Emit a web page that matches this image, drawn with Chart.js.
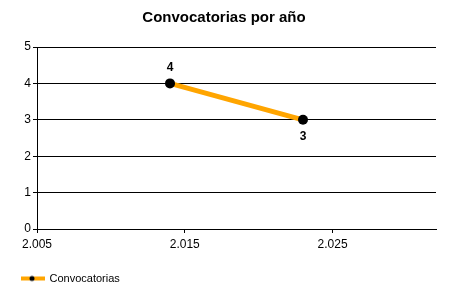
<!DOCTYPE html>
<html>
<head>
<meta charset="utf-8">
<script src="https://cdn.jsdelivr.net/npm/chart.js@4"></script>
<style>
	html, body { margin: 0; padding: 0; background: #fff; }
	#wrap { width: 450px; height: 300px; }
</style>
</head>
<body>
<div id="wrap"><canvas id="chart"></canvas></div>
<script>
const years = [2014, 2023];
const counts = [4, 3];
const xTicks = [2005, 2015, 2025];
const yTicks = [0, 1, 2, 3, 4, 5];

const ORANGE = '#FFA500';

// legend symbol: orange line with black dot
const legendIcon = document.createElement('canvas');
legendIcon.width = 24;
legendIcon.height = 8;
{
	const c = legendIcon.getContext('2d');
	c.fillStyle = ORANGE;
	c.fillRect(0, 2, 24, 4);
	c.fillStyle = '#000';
	c.beginPath();
	c.arc(11, 4, 2.5, 0, Math.PI * 2);
	c.fill();
}

// number labels above / below the points
const pointLabels = {
	id: 'pointLabels',
	afterDatasetsDraw(chart) {
		const ctx = chart.ctx;
		const meta = chart.getDatasetMeta(0);
		const data = chart.data.datasets[0].data;
		ctx.save();
		ctx.font = 'bold 12px "Liberation Sans", Arial, sans-serif';
		ctx.fillStyle = '#000';
		ctx.textAlign = 'center';
		ctx.textBaseline = 'middle';
		meta.data.forEach((pt, i) => {
			const v = data[i].y;
			const nb = [data[i - 1], data[i + 1]].filter(Boolean).map(d => d.y);
			const avg = nb.length ? nb.reduce((a, b) => a + b, 0) / nb.length : v;
			const above = v >= avg;
			ctx.fillText(String(v), pt.x, above ? pt.y - 16 : pt.y + 17);
		});
		ctx.restore();
	}
};

const fmt = v => v.toLocaleString('es-ES', { useGrouping: 'always' }).replace(/\u00a0/g, '.');

new Chart(document.getElementById('chart'), {
	type: 'line',
	data: {
		datasets: [{
			label: 'Convocatorias',
			data: years.map((y, i) => ({ x: y, y: counts[i] })),
			borderColor: ORANGE,
			borderWidth: 5,
			pointBackgroundColor: '#000',
			pointBorderColor: '#000',
			pointRadius: 5,
			pointBorderWidth: 0,
			tension: 0
		}]
	},
	options: {
		responsive: true,
		maintainAspectRatio: false,
		animation: false,
		layout: { padding: { left: 12, right: 14, top: 0, bottom: 6 } },
		plugins: {
			title: {
				display: true,
				text: 'Convocatorias por año',
				color: '#000',
				font: { family: '"Liberation Sans", Arial, sans-serif', size: 15, weight: 'bold' },
				padding: { top: 9, bottom: 20 }
			},
			legend: {
				display: true,
				position: 'bottom',
				align: 'start',
				labels: {
					color: '#000',
					font: { family: '"Liberation Sans", Arial, sans-serif', size: 11 },
					usePointStyle: true,
					pointStyleWidth: 22,
					padding: 10,
					generateLabels: chart => chart.data.datasets.map((ds, i) => ({
						text: ds.label,
						pointStyle: legendIcon,
						fillStyle: ORANGE,
						strokeStyle: ORANGE,
						lineWidth: 0,
						fontColor: '#000',
						datasetIndex: i
					}))
				}
			},
			tooltip: { enabled: false }
		},
		scales: {
			x: {
				type: 'linear',
				min: 2005,
				max: 2032,
				afterBuildTicks: s => { s.ticks = xTicks.map(v => ({ value: v })); },
				afterFit: s => { s.height = 34; },
				ticks: {
					color: '#000',
					font: { family: '"Liberation Sans", Arial, sans-serif', size: 12 },
					padding: 4,
					maxRotation: 0,
					callback: v => fmt(v)
				},
				grid: { drawOnChartArea: false, color: '#000', tickLength: 4 },
				border: { color: '#000', width: 1 }
			},
			y: {
				min: 0,
				max: 5,
				afterBuildTicks: s => { s.ticks = yTicks.map(v => ({ value: v })); },
				afterFit: s => { s.width = 25; },
				ticks: {
					color: '#000',
					font: { family: '"Liberation Sans", Arial, sans-serif', size: 12 },
					padding: 2
				},
				grid: { color: '#000', tickLength: 4 },
				border: { color: '#000', width: 1 }
			}
		}
	},
	plugins: [pointLabels]
});
</script>
</body>
</html>
